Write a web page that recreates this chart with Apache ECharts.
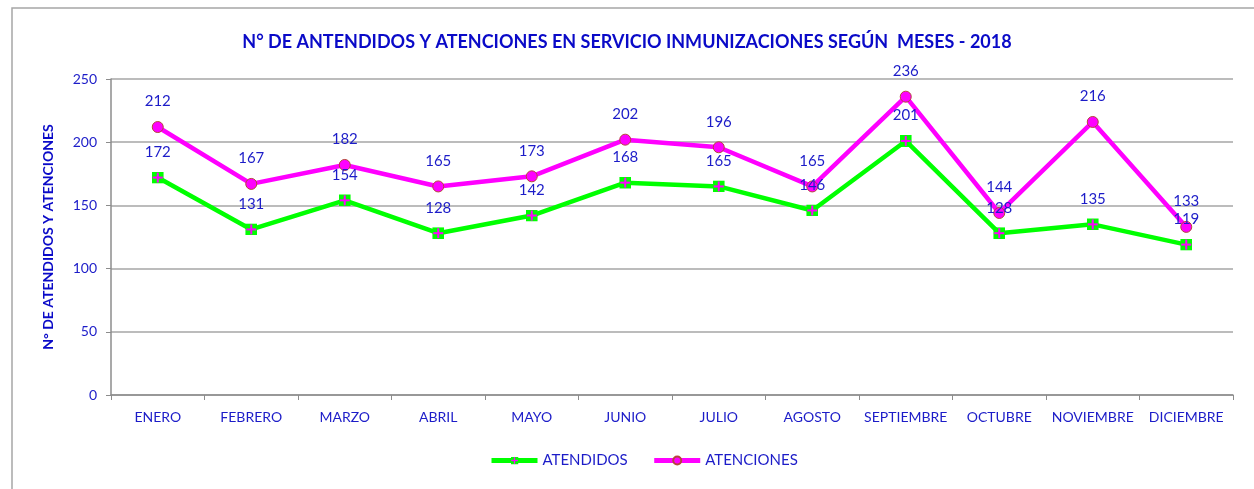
<!DOCTYPE html>
<html>
<head>
<meta charset="utf-8">
<script src="https://cdn.jsdelivr.net/npm/echarts@6/dist/echarts.min.js"></script>
<style>html,body{margin:0;padding:0;background:#fff;}#c{width:1254px;height:489px;}</style>
</head>
<body>
<div id="c"></div>
<script>
const titleText = 'N° DE ANTENDIDOS Y ATENCIONES EN SERVICIO INMUNIZACIONES SEGÚN  MESES - 2018';
const yAxisName = 'N° DE ATENDIDOS Y ATENCIONES';
const categories = ['ENERO','FEBRERO','MARZO','ABRIL','MAYO','JUNIO','JULIO','AGOSTO','SEPTIEMBRE','OCTUBRE','NOVIEMBRE','DICIEMBRE'];
const atendidos = [172,131,154,128,142,168,165,146,201,128,135,119];
const atenciones = [212,167,182,165,173,202,196,165,236,144,216,133];
const seriesNames = ['ATENDIDOS','ATENCIONES'];

const blue = '#1c1cc8';
const font = 'Lato, "Open Sans", sans-serif';
const plusSvg = 'image://data:image/svg+xml;utf8,' + encodeURIComponent(
  '<svg xmlns="http://www.w3.org/2000/svg" width="12" height="12" viewBox="0 0 12 12">' +
  '<rect x="0" y="0" width="12" height="12" fill="#00ff00"/>' +
  '<rect x="5" y="1" width="2" height="10" fill="#ff00ff"/>' +
  '<rect x="1" y="5" width="10" height="2" fill="#ff00ff"/></svg>');

const chart = echarts.init(document.getElementById('c'), null, {renderer:'canvas'});
chart.setOption({
  backgroundColor: '#ffffff',
  animation: false,
  graphic: [{
    type: 'rect', shape: {x: 12, y: 8, width: 1260, height: 500},
    style: {fill: 'none', stroke: '#a6a6a6', lineWidth: 1.5}
  }],
  title: {
    text: titleText, left: 'center', top: 28,
    textStyle: {color: '#0a0ac8', fontFamily: font, fontWeight: 'bold', fontSize: 18}
  },
  legend: {
    bottom: 16, left: 484, itemWidth: 46, itemHeight: 10, itemGap: 24,
    textStyle: {color: blue, fontFamily: font, fontSize: 15},
    lineStyle: {width: 5},
    data: seriesNames
  },
  grid: {left: 111, right: 21, top: 79, bottom: 94, containLabel: false},
  xAxis: {
    type: 'category', data: categories, boundaryGap: true,
    axisLine: {lineStyle: {color: '#8c8c8c', width: 1.5}},
    axisTick: {show: true, length: 5, alignWithLabel: false, lineStyle: {color: '#8c8c8c'}},
    axisLabel: {color: blue, fontFamily: font, fontSize: 14, margin: 15, interval: 0}
  },
  yAxis: {
    type: 'value', min: 0, max: 250, interval: 50,
    name: yAxisName, nameLocation: 'middle', nameRotate: 90, nameGap: 56,
    nameTextStyle: {color: '#0a0ac8', fontFamily: font, fontWeight: 'bold', fontSize: 14},
    axisLine: {show: true, lineStyle: {color: '#8c8c8c', width: 1.5}},
    axisTick: {show: true, length: 5, lineStyle: {color: '#8c8c8c'}},
    axisLabel: {color: blue, fontFamily: font, fontSize: 14, margin: 14},
    splitLine: {lineStyle: {color: '#a6a6a6', width: 1.5}}
  },
  series: [
    {
      name: seriesNames[0], type: 'line', data: atendidos,
      symbol: plusSvg, symbolSize: 12,
      lineStyle: {color: '#00ff00', width: 4.5},
      itemStyle: {color: '#00ff00'},
      label: {show: true, position: 'top', distance: 12, color: blue, fontFamily: font, fontSize: 15}
    },
    {
      name: seriesNames[1], type: 'line', data: atenciones,
      symbol: 'circle', symbolSize: 11,
      lineStyle: {color: '#ff00ff', width: 4.5},
      itemStyle: {color: '#ff00ff', borderColor: '#b5473a', borderWidth: 1},
      label: {show: true, position: 'top', distance: 12, color: blue, fontFamily: font, fontSize: 15}
    }
  ]
});
</script>
</body>
</html>
